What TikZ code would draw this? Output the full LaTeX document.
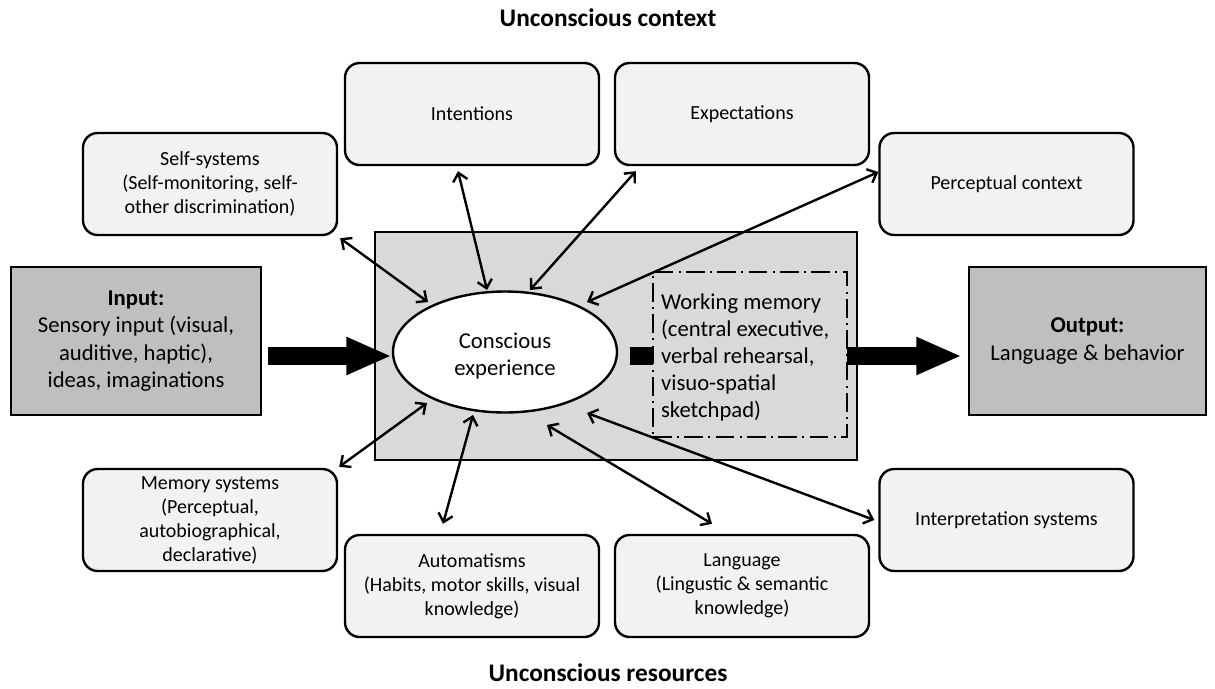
\documentclass[tikz,border=0pt]{standalone}
\usepackage{fontspec}
\setmainfont{Carlito}
\usetikzlibrary{arrows.meta,shapes.geometric,calc}
\definecolor{lightfill}{HTML}{F2F2F2}
\definecolor{midfill}{HTML}{D9D9D9}
\definecolor{darkfill}{HTML}{BFBFBF}
\begin{document}
\begin{tikzpicture}[x=0.75pt,y=-0.75pt,
  lbox/.style={draw, line width=1.8pt, rounded corners=11pt, fill=lightfill,
    minimum width=190.5pt, minimum height=76.5pt, align=center, inner sep=2pt,
    font=\fontsize{15pt}{18pt}\selectfont},
  gbox/.style={draw, line width=1.8pt, fill=darkfill, minimum height=111pt,
    align=center, font=\fontsize{17pt}{20.5pt}\selectfont},
  link/.style={line width=1.8pt,
    {Straight Barb[length=6pt,width=11pt]}-{Straight Barb[length=6pt,width=11pt]}},
  bigarrow/.style={line width=13pt, -{Triangle[length=34pt,width=26pt]}},
  titletext/.style={font=\fontsize{19pt}{22pt}\selectfont\bfseries, inner sep=0pt}
]
\useasboundingbox (0,0) rectangle (1215,689);

% titles
\node[titletext] (ttop) at (608,18) {Unconscious context};
\node[titletext] (tbot) at (608,673) {Unconscious resources};

% central area
\node[draw, line width=1.8pt, fill=midfill, minimum width=361.5pt, minimum height=171pt] (central) at (616,346) {};

% input / output
\node[gbox, minimum width=187.5pt] (input) at (136,341)
  {\textbf{Input:}\\Sensory input (visual,\\auditive, haptic),\\ideas, imaginations};
\node[gbox, minimum width=177.75pt] (output) at (1087.5,341)
  {\textbf{Output:}\\Language \& behavior};

% ellipse
\node[draw, line width=1.8pt, fill=white, ellipse, minimum width=168pt, minimum height=90.75pt,
  inner sep=0pt] (ell) at (505,352) {};
\node[align=center, inner sep=0pt, font=\fontsize{17pt}{20pt}\selectfont] (elltext)
  at ($(ell.center)+(0,4)$) {Conscious\\experience};

% thick arrows
\draw[bigarrow] ($(input.east)+(6,15)$) -- ($(ell.west)+(0,4)$);
\draw[bigarrow] ($(ell.east)+(12,4)$) -- ($(output.west)+(-6,15)$);

% working memory
\node[draw, line width=1.8pt, fill=midfill, dash pattern=on 14pt off 4pt on 1.5pt off 4pt,
  minimum width=145.5pt, minimum height=123.75pt] (wm) at (750,354.5) {};
\node[anchor=west, align=left, inner sep=0pt, font=\fontsize{17pt}{20.25pt}\selectfont]
  (wmtext) at ($(wm.west)+(9,3)$)
  {Working memory\\(central executive,\\verbal rehearsal,\\visuo-spatial\\sketchpad)};

% surrounding boxes
\node[lbox] (self) at (210,184) {Self-systems\\(Self-monitoring, self-\\other discrimination)};
\node[lbox] (intent) at (472,114) {Intentions};
\node[lbox] (expect) at (742,114) {Expectations};
\node[lbox] (percept) at (1006.5,184) {Perceptual context};
\node[lbox] (memory) at (210,520) {Memory systems\\(Perceptual,\\autobiographical,\\declarative)};
\node[lbox] (auto) at (472,586) {Automatisms\\(Habits, motor skills, visual\\knowledge)};
\node[lbox] (lang) at (742,586) {Language\\(Lingustic \& semantic\\knowledge)};
\node[lbox] (interp) at (1006.5,520) {Interpretation systems};

% connectors
\draw[link] ($(self.south east)+(2,2)$) -- ($(ell.center)+(-77,-50)$);
\draw[link] ($(intent.south)+(-14,5)$) -- ($(ell.center)+(-18,-62)$);
\draw[link] ($(expect.south west)+(22,5)$) -- ($(ell.center)+(25,-62)$);
\draw[link] ($(percept.west)+(0,-12)$) -- ($(ell.center)+(82,-50)$);
\draw[link] ($(memory.north east)+(1,-1)$) -- ($(ell.center)+(-78,51)$);
\draw[link] ($(auto.north)+(-29,-10)$) -- ($(ell.center)+(-32,63)$);
\draw[link] ($(lang.north)+(-30,-10)$) -- ($(ell.center)+(42,73)$);
\draw[link] ($(interp.west)+(-4,0)$) -- ($(ell.center)+(82,61)$);
\end{tikzpicture}
\end{document}
